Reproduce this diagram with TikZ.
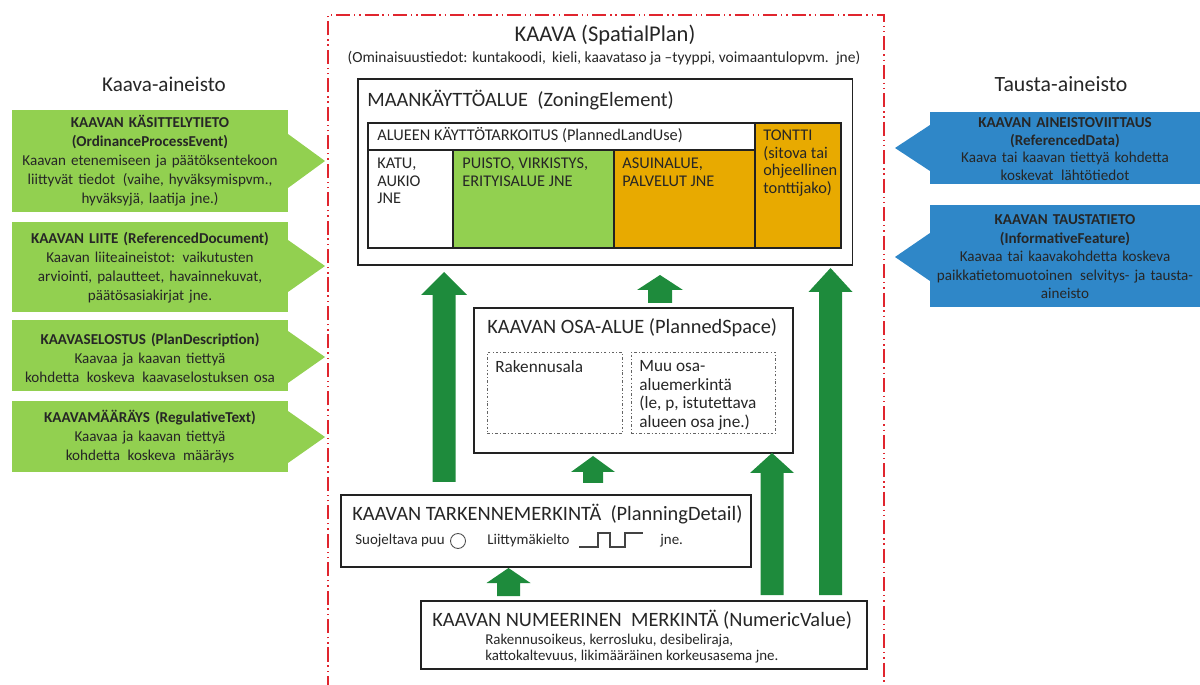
\documentclass[tikz,border=0pt]{standalone}
\usepackage{fontspec}
\setmainfont{Carlito}
\definecolor{framered}{HTML}{E0252E}
\definecolor{arrowgreen}{HTML}{1E8B3C}
\definecolor{lightgreen}{HTML}{92D050}
\definecolor{gold}{HTML}{E8AA00}
\definecolor{bluebox}{HTML}{2F87C8}
\definecolor{boxline}{HTML}{222222}
\definecolor{txtgray}{HTML}{262626}
\newcommand{\upblock}[6]{% cx, bottom, tip, base, shaft half, head half
  \fill[arrowgreen] (#1-#5,#2) -- (#1-#5,#4) -- (#1-#6,#4) -- (#1,#3) -- (#1+#6,#4) -- (#1+#5,#4) -- (#1+#5,#2) -- cycle;}
\begin{document}
\begin{tikzpicture}[x=0.02cm,y=-0.02cm,
  box/.style={draw=boxline, line width=0.9pt, inner sep=0pt, anchor=north west},
  dbox/.style={draw=boxline!70, line width=0.5pt, dash pattern=on 1.5pt off 1.2pt on 0.5pt off 1.2pt, inner sep=0pt, anchor=north west},
  lbl/.style={inner sep=0pt, anchor=west, text=txtgray},
  big/.style={font=\fontsize{11.6}{14}\selectfont},
  side/.style={inner sep=0pt, align=center, text=txtgray, text width=5.4cm, font=\fontsize{8.6}{10.8}\selectfont},
  tbl/.style={inner sep=0pt, anchor=north west, align=left, text=txtgray, font=\fontsize{9.3}{9.9}\selectfont},
  small/.style={inner sep=0pt, anchor=west, text=txtgray, font=\fontsize{8.5}{9}\selectfont}]
\useasboundingbox (0,0) rectangle (1200,685);

% outer red frame
\draw[framered, line width=0.9pt, dash pattern=on 8pt off 2.2pt on 0.8pt off 2.2pt on 0.8pt off 2.2pt]
  (328,690) -- (328,15) -- (884,15) -- (884,690);

\node[inner sep=0pt, text=txtgray, font=\fontsize{12.8}{15}\selectfont] (title) at (605,35) {KAAVA (SpatialPlan)};
\node[inner sep=0pt, text=txtgray, font=\fontsize{8.8}{10}\selectfont] (subtitle) at (604,58) {(Ominaisuustiedot: kuntakoodi,\, kieli, kaavataso ja –tyyppi, voimaantulopvm.\, jne)};

% side titles
\node[inner sep=0pt, text=txtgray, font=\fontsize{12}{15}\selectfont] (lefttitle) at (164,84) {Kaava-aineisto};
\node[inner sep=0pt, text=txtgray, font=\fontsize{12.4}{15}\selectfont] (righttitle) at (1061,84) {Tausta-aineisto};

% left green boxes with arrow heads
\fill[lightgreen] (12,110) rectangle (288,212);
\fill[lightgreen] (288,134) -- (325,161) -- (288,188) -- cycle;
\fill[lightgreen] (12,222) rectangle (288,312);
\fill[lightgreen] (288,240) -- (325,266) -- (288,292) -- cycle;
\fill[lightgreen] (12,320) rectangle (288,391);
\fill[lightgreen] (288,331) -- (325,357) -- (288,383) -- cycle;
\fill[lightgreen] (12,401) rectangle (288,472);
\fill[lightgreen] (288,411) -- (325,437) -- (288,463) -- cycle;

\node[side] (g1) at (150,161) {\textbf{KAAVAN KÄSITTELYTIETO}\\\textbf{(OrdinanceProcessEvent)}\\Kaavan etenemiseen ja päätöksentekoon\\liittyvät tiedot\, (vaihe, hyväksymispvm.,\\hyväksyjä, laatija jne.)};
\node[side] (g2) at (150,268) {\textbf{KAAVAN LIITE (ReferencedDocument)}\\Kaavan liiteaineistot: vaikutusten\\arviointi, palautteet, havainnekuvat,\\päätösasiakirjat jne.};
\node[side] (g3) at (150,358) {\textbf{KAAVASELOSTUS (PlanDescription)}\\Kaavaa ja kaavan tiettyä\\kohdetta\, koskeva\, kaavaselostuksen osa};
\node[side] (g4) at (150,437) {\textbf{KAAVAMÄÄRÄYS (RegulativeText)}\\Kaavaa ja kaavan tiettyä\\kohdetta\, koskeva\, määräys};

% right blue boxes with arrow heads
\fill[bluebox] (930,112) rectangle (1200,184);
\fill[bluebox] (930,125) -- (895,148) -- (930,171) -- cycle;
\fill[bluebox] (930,205) rectangle (1200,307);
\fill[bluebox] (930,233) -- (895,257) -- (930,281) -- cycle;
\node[side, font=\fontsize{8.6}{10}\selectfont] (b1) at (1065,149) {\textbf{KAAVAN AINEISTOVIITTAUS}\\\textbf{(ReferencedData)}\\Kaava tai kaavan tiettyä kohdetta\\koskevat\, lähtötiedot};
\node[side, font=\fontsize{8.6}{10.5}\selectfont] (b2) at (1065,257) {\textbf{KAAVAN TAUSTATIETO}\\\textbf{(InformativeFeature)}\\Kaavaa tai kaavakohdetta koskeva\\paikkatietomuotoinen\, selvitys- ja tausta-\\aineisto};

% ZoningElement
\node[box, minimum width=9.9cm, minimum height=3.72cm] (zoning) at (357,78) {};
\node[lbl, big] (zoninglbl) at (367,100) {MAANKÄYTTÖALUE\ \ (ZoningElement)};
\node[box, minimum width=7.74cm, minimum height=0.54cm] (landuse) at (367,122) {};
\node[box, minimum width=1.7cm, minimum height=1.96cm] (katu) at (367,149) {};
\node[box, fill=lightgreen, minimum width=3.22cm, minimum height=1.96cm] (puisto) at (452,149) {};
\node[box, fill=gold, minimum width=2.82cm, minimum height=1.96cm] (asuin) at (613,149) {};
\node[box, fill=gold, minimum width=1.72cm, minimum height=2.5cm] (tontti) at (754,122) {};
\node[lbl, font=\fontsize{9.3}{10}\selectfont] (landuselbl) at (377,135.5) {ALUEEN KÄYTTÖTARKOITUS (PlannedLandUse)};
\node[tbl] (katutxt) at (377,158) {KATU,\\AUKIO\\JNE};
\node[tbl] (puistotxt) at (462,158) {PUISTO, VIRKISTYS,\\ERITYISALUE JNE};
\node[tbl] (asuintxt) at (622,158) {ASUINALUE,\\PALVELUT JNE};
\node[tbl] (tonttitxt) at (763,130) {TONTTI\\(sitova tai\\ohjeellinen\\tonttijako)};

% PlannedSpace
\node[box, minimum width=6.38cm, minimum height=2.9cm] (space) at (473,307) {};
\node[lbl, big] (spacelbl) at (487,328) {KAAVAN OSA-ALUE (PlannedSpace)};
\node[dbox, minimum width=2.7cm, minimum height=1.62cm] (rak) at (487,352) {};
\node[dbox, minimum width=2.88cm, minimum height=1.62cm] (muu) at (631,352) {};
\node[tbl, font=\fontsize{9.8}{10.6}\selectfont] (raktxt) at (495,360) {Rakennusala};
\node[tbl, font=\fontsize{9.8}{10.6}\selectfont] (muutxt) at (639,360) {Muu osa-\\aluemerkintä\\(le, p, istutettava\\alueen osa jne.)};

% PlanningDetail
\node[box, minimum width=8.2cm, minimum height=1.44cm] (detail) at (340,494) {};
\node[lbl, big] (detaillbl) at (352,514) {KAAVAN TARKENNEMERKINTÄ\ \ (PlanningDetail)};
\node[small] (puu) at (355,541) {Suojeltava puu};
\draw[boxline!80, line width=0.5pt] (458,541) circle (0.15cm);
\node[small] (liitt) at (487,541) {Liittymäkielto};
\draw[boxline!85, line width=0.6pt] (579,547) -- (598,547) -- (598,533) -- (610,533) -- (610,547) -- (625,547) -- (625,533) -- (643,533);
\node[small] (jne) at (660,541) {jne.};

% NumericValue
\node[box, minimum width=8.92cm, minimum height=1.36cm] (numeric) at (420,600) {};
\node[lbl, big] (numericlbl) at (432,620) {KAAVAN NUMEERINEN\ \ MERKINTÄ (NumericValue)};
\node[small] (num1) at (485,641) {Rakennusoikeus, kerrosluku, desibeliraja,};
\node[small] (num2) at (485,657) {kattokaltevuus, likimääräinen korkeusasema jne.};

% green block arrows
\upblock{444}{482}{272}{295}{11.5}{23}
\upblock{660}{303}{275}{290}{12}{23}
\upblock{830.5}{595}{268}{292}{11.5}{22}
\upblock{772}{595}{453}{473}{11.5}{22}
\upblock{593}{483}{456}{472}{10}{22}
\upblock{508.5}{596}{568}{583}{11.5}{22}
\end{tikzpicture}
\end{document}
